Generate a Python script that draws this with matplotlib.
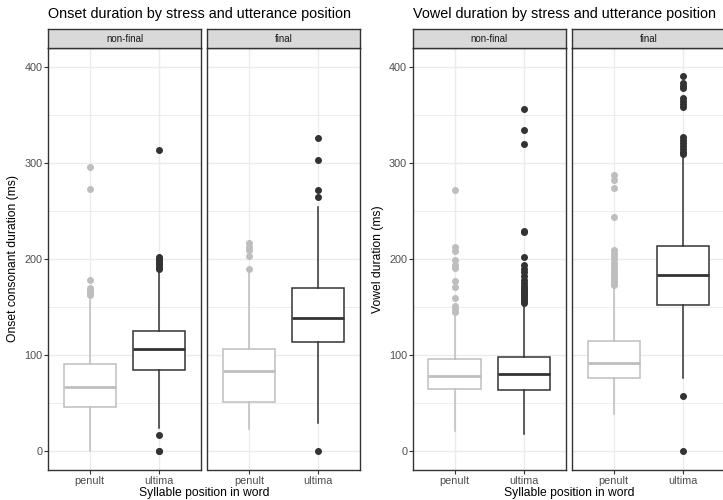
import matplotlib
matplotlib.use("Agg")
import matplotlib.pyplot as plt

plt.rcParams['font.family'] = ['Liberation Sans', 'DejaVu Sans']

W, H = 723, 500
positions = ["penult", "ultima"]
facets = ["non-final", "final"]
box_colors = ["#BEBEBE", "#333333"]

# five-number summaries per box: [whisker low, q1, median, q3, whisker high]
onset_nonfinal = [[0, 46, 67, 90, 157], [24, 84, 106, 125, 188]]
onset_final = [[23, 51, 83, 106, 188], [29, 113, 139, 170, 254]]
vowel_nonfinal = [[21, 64, 78, 96, 143], [18, 63, 80, 98, 152]]
vowel_final = [[38, 76, 92, 114, 170], [76, 152, 183, 214, 306]]

# outliers per box
onset_nonfinal_out = [
    [162, 164, 166, 168, 170, 178, 273, 296],
    [0, 0, 16, 190, 192, 194, 196, 198, 200, 202, 314],
]
onset_final_out = [
    [190, 203, 209, 213, 217],
    [0, 265, 272, 303, 326],
]
vowel_nonfinal_out = [
    [145, 148, 151, 159, 171, 177, 191, 194, 199, 208, 212, 272],
    [154, 156, 158, 160, 162, 164, 166, 168, 170, 172, 175, 178, 182,
     186, 190, 194, 202, 228, 229, 320, 335, 356],
]
vowel_final_out = [
    [173, 175, 177, 180, 183, 186, 190, 193, 196, 200, 203, 206, 209,
     244, 274, 282, 288],
    [0, 57, 309, 312, 315, 318, 321, 324, 327, 358, 362, 365, 368,
     378, 380, 383, 391],
]

charts = [
    {"title": "Onset duration by stress and utterance position",
     "ylabel": "Onset consonant duration (ms)",
     "stats": [onset_nonfinal, onset_final],
     "out": [onset_nonfinal_out, onset_final_out],
     "panels": [(48, 201), (207.5, 360)], "ylab_x": 13},
    {"title": "Vowel duration by stress and utterance position",
     "ylabel": "Vowel duration (ms)",
     "stats": [vowel_nonfinal, vowel_final],
     "out": [vowel_nonfinal_out, vowel_final_out],
     "panels": [(412.7, 566), (572, 725)], "ylab_x": 378},
]

P_TOP, P_BOT, S_TOP = 48, 470, 29


def px_axes(fig, x0, y0, x1, y1):
    return fig.add_axes([x0 / W, 1 - y1 / H, (x1 - x0) / W, (y1 - y0) / H])


fig = plt.figure(figsize=(W / 100, H / 100), dpi=100)

for ch in charts:
    for j, (x0, x1) in enumerate(ch["panels"]):
        ax = px_axes(fig, x0, P_TOP, x1, P_BOT)
        ax.set_xlim(0.4, 2.6)
        ax.set_ylim(-20, 420)
        ax.set_yticks([0, 100, 200, 300, 400])
        ax.set_yticks([50, 150, 250, 350], minor=True)
        ax.set_xticks([1, 2])
        ax.set_xticklabels(positions)
        ax.grid(True, which="major", color="#EBEBEB", lw=1.0, zorder=0)
        ax.grid(True, which="minor", axis="y", color="#EBEBEB", lw=0.6, zorder=0)
        ax.set_axisbelow(True)
        for s in ax.spines.values():
            s.set_color("#333333")
            s.set_linewidth(1.0)
        ax.tick_params(which="major", length=3, width=0.8, color="#333333",
                       labelsize=7.8, labelcolor="#4D4D4D", pad=1.0)
        ax.tick_params(which="minor", length=0)
        if j > 0:
            ax.tick_params(axis="y", which="major", length=0, labelleft=False)

        for k in range(2):
            lo, q1, med, q3, hi = ch["stats"][j][k]
            st = [{"whislo": lo, "q1": q1, "med": med, "q3": q3,
                   "whishi": hi, "fliers": ch["out"][j][k]}]
            c = box_colors[k]
            ax.bxp(st, positions=[k + 1], widths=0.75, patch_artist=True,
                   showcaps=False, manage_ticks=False,
                   boxprops=dict(facecolor="white", edgecolor=c, lw=1.1),
                   whiskerprops=dict(color=c, lw=1.1),
                   medianprops=dict(color=c, lw=2.0),
                   flierprops=dict(marker="o", markerfacecolor=c,
                                   markeredgecolor=c, markersize=4.0))

        sax = px_axes(fig, x0, S_TOP, x1, P_TOP)
        sax.set_facecolor("#D9D9D9")
        sax.set_xticks([])
        sax.set_yticks([])
        for s in sax.spines.values():
            s.set_color("#333333")
            s.set_linewidth(1.0)
        sax.text(0.5, 0.5, facets[j], ha="center", va="center",
                 fontsize=7.0, color="#1A1A1A", transform=sax.transAxes)

    left = ch["panels"][0][0]
    right = ch["panels"][1][1]
    fig.text(left / W, 1 - 18 / H, ch["title"], ha="left", va="baseline",
             fontsize=10.4, color="black")
    fig.text((left + right) / 2 / W, 1 - 493 / H, "Syllable position in word",
             ha="center", va="center", fontsize=8.7, color="black")
    fig.text(ch["ylab_x"] / W, 1 - (P_TOP + P_BOT) / 2 / H, ch["ylabel"],
             ha="center", va="center", rotation=90, fontsize=8.7, color="black")

fig.savefig("out.png", dpi=100)
